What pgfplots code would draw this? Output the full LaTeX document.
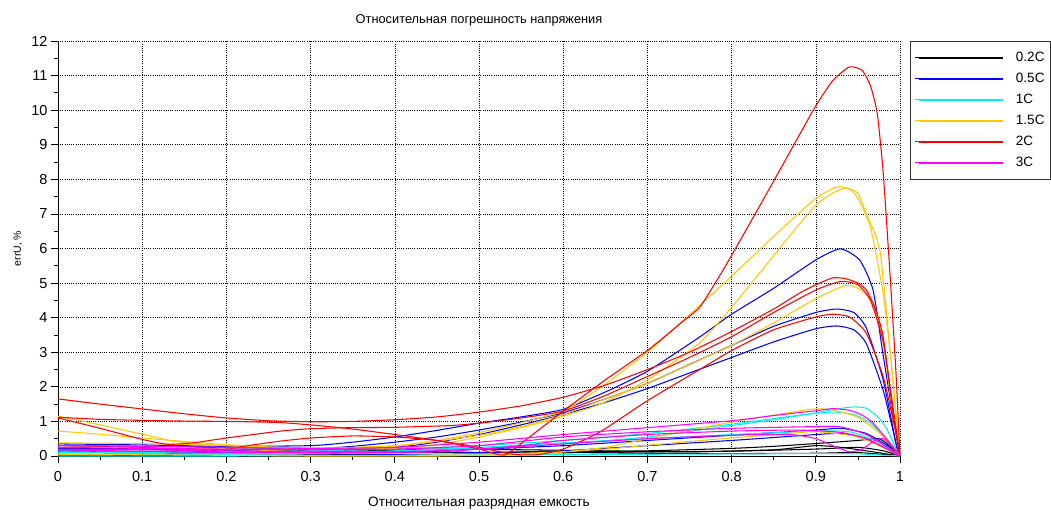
\documentclass[border=0pt]{standalone}
\usepackage{fontspec}
\setmainfont{Liberation Sans}
\usepackage{pgfplots}
\pgfplotsset{compat=1.18}
\definecolor{sciBlack}{RGB}{0,0,0}
\definecolor{sciBlue}{RGB}{0,0,255}
\definecolor{sciCyan}{RGB}{0,240,240}
\definecolor{sciYellow}{RGB}{255,200,0}
\definecolor{sciRed}{RGB}{255,0,0}
\definecolor{sciMagenta}{RGB}{255,0,255}
\pgfplotsset{
  crv/.style={line width=1.05pt, smooth, tension=0.35},
}
\begin{document}
\begin{tikzpicture}
\useasboundingbox (-58pt,-53pt) rectangle (993pt,456pt);
\begin{axis}[
  at={(0pt,0pt)}, anchor=south west,
  scale only axis, width=842pt, height=415pt,
  xmin=0, xmax=1, ymin=0, ymax=12,
  axis lines=left, axis line style={-, black, line width=0.8pt},
  xtick={0,0.1,0.2,0.3,0.4,0.5,0.6,0.7,0.8,0.9,1},
  xticklabels={0,0.1,0.2,0.3,0.4,0.5,0.6,0.7,0.8,0.9,1},
  ytick={0,1,2,3,4,5,6,7,8,9,10,11,12},
  yticklabels={0,1,2,3,4,5,6,7,8,9,10,11,12},
  minor x tick num=1, minor y tick num=1,
  tick align=outside,
  major tick length=7pt, minor tick length=4pt,
  tick style={black, line width=0.8pt},
  ticklabel style={font=\fontsize{14.5}{16}\selectfont},
  xticklabel style={yshift=-5pt},
  grid=major,
  major grid style={black, line width=0.6pt, dash pattern=on 1pt off 1.2pt},
  title={Относительная погрешность напряжения},
  title style={at={(axis description cs:0.5,1.036)}, anchor=center, font=\fontsize{12.8}{14}\selectfont},
  xlabel={Относительная разрядная емкость},
  xlabel style={at={(axis description cs:0.5,-0.113)}, anchor=center, font=\fontsize{13.6}{15}\selectfont},
  ylabel={errU, \%},
  ylabel style={at={(axis description cs:-0.0475,0.5)}, anchor=center, font=\fontsize{10.5}{12}\selectfont},
  legend style={at={(axis description cs:1,1)}, anchor=north west, xshift=10pt,
    draw=black!80, line width=1.2pt, fill=white, inner xsep=4pt, inner ysep=8pt,
    row sep=4.5pt, column sep=10pt,
    font=\fontsize{13.5}{15}\selectfont,
    nodes={inner sep=2pt, text height=9.5pt, text depth=3pt}},
  legend cell align=left,
  legend image code/.code={\path (-4pt,0pt) -- (84pt,0pt); \draw[#1, line width=1.7pt] (0pt,0pt) -- (84pt,0pt);},
]
% ---- 0.2C (black)
\addplot[sciBlack, crv] coordinates {(0,0.1)(0.1,0.12)(0.2,0.18)(0.3,0.15)(0.4,0.12)(0.5,0.1)(0.6,0.12)(0.7,0.15)(0.8,0.22)(0.85,0.28)(0.9,0.36)(0.95,0.45)(0.975,0.5)(0.99,0.25)(1,0)};
\addlegendentry{0.2C}
\addplot[sciBlack, crv, forget plot] coordinates {(0,0.2)(0.1,0.22)(0.2,0.2)(0.3,0.2)(0.4,0.15)(0.5,0.1)(0.6,0.1)(0.7,0.12)(0.8,0.14)(0.9,0.2)(0.95,0.25)(0.98,0.15)(1,0)};
\addplot[sciBlack, crv, forget plot] coordinates {(0,0.02)(0.2,0.02)(0.3,0.03)(0.5,0.08)(0.6,0.1)(0.7,0.08)(0.8,0.07)(0.9,0.08)(0.95,0.1)(1,0)};
\addplot[sciBlack, crv, forget plot] coordinates {(0,0.15)(0.2,0.25)(0.3,0.22)(0.45,0.2)(0.55,0.18)(0.65,0.15)(0.75,0.12)(0.85,0.18)(0.9,0.3)(0.93,0.25)(0.96,0.15)(1,0)};

% ---- 0.5C (blue)
\addplot[sciBlue, crv] coordinates {(0,0.35)(0.1,0.32)(0.2,0.28)(0.3,0.3)(0.35,0.4)(0.4,0.55)(0.45,0.74)(0.5,0.95)(0.55,1.13)(0.6,1.35)(0.65,1.85)(0.7,2.45)(0.762,3.44)(0.8,4.1)(0.85,4.85)(0.9,5.67)(0.929,5.99)(0.952,5.67)(0.968,4.8)(0.979,3.07)(0.99,1.4)(1,0)};
\addlegendentry{0.5C}
\addplot[sciBlue, crv, forget plot] coordinates {(0,0.22)(0.1,0.2)(0.2,0.15)(0.3,0.2)(0.35,0.28)(0.4,0.4)(0.45,0.55)(0.5,0.75)(0.55,0.98)(0.6,1.25)(0.65,1.65)(0.7,2.1)(0.75,2.65)(0.8,3.2)(0.85,3.75)(0.9,4.15)(0.925,4.25)(0.945,4.15)(0.96,3.7)(0.98,2.2)(0.996,0.26)(1,0)};
\addplot[sciBlue, crv, forget plot] coordinates {(0,0.15)(0.1,0.12)(0.2,0.1)(0.3,0.12)(0.4,0.25)(0.45,0.4)(0.5,0.62)(0.55,0.9)(0.6,1.2)(0.65,1.55)(0.7,1.95)(0.75,2.4)(0.8,2.85)(0.85,3.3)(0.9,3.68)(0.925,3.76)(0.945,3.65)(0.96,3.25)(0.98,1.9)(0.995,0.4)(1,0)};
\addplot[sciBlue, crv, forget plot] coordinates {(0,0.3)(0.1,0.28)(0.2,0.25)(0.3,0.22)(0.4,0.18)(0.5,0.2)(0.6,0.3)(0.7,0.45)(0.8,0.6)(0.9,0.75)(0.93,0.8)(0.96,0.65)(0.985,0.3)(1,0)};
\addplot[sciBlue, crv, forget plot] coordinates {(0,0.1)(0.2,0.08)(0.4,0.05)(0.5,0.1)(0.6,0.15)(0.7,0.3)(0.8,0.45)(0.9,0.62)(0.93,0.65)(0.96,0.5)(1,0)};

% ---- 1C (cyan)
\addplot[sciCyan, crv] coordinates {(0,0.05)(0.1,0.04)(0.2,0.05)(0.3,0.08)(0.4,0.12)(0.5,0.22)(0.6,0.35)(0.7,0.55)(0.8,0.88)(0.85,1.05)(0.9,1.25)(0.925,1.36)(0.945,1.42)(0.96,1.38)(0.975,1.1)(0.985,0.75)(0.996,0.17)(1,0)};
\addlegendentry{1C}
\addplot[sciCyan, crv, forget plot] coordinates {(0,0.15)(0.1,0.14)(0.2,0.13)(0.3,0.15)(0.4,0.2)(0.5,0.3)(0.6,0.45)(0.7,0.65)(0.8,0.92)(0.88,1.18)(0.92,1.27)(0.945,1.2)(0.965,0.95)(0.985,0.45)(1,0)};
\addplot[sciCyan, crv, forget plot] coordinates {(0,0.0)(0.2,0.0)(0.4,0.02)(0.6,0.04)(0.8,0.06)(0.9,0.07)(0.95,0.06)(1,0)};
\addplot[sciCyan, crv, forget plot] coordinates {(0,0.1)(0.1,0.1)(0.2,0.08)(0.3,0.1)(0.4,0.15)(0.5,0.25)(0.6,0.38)(0.7,0.5)(0.8,0.62)(0.9,0.72)(0.94,0.7)(0.97,0.45)(1,0)};

% ---- 1.5C (yellow)
\addplot[sciYellow, crv] coordinates {(0,1.15)(0.05,0.9)(0.1,0.63)(0.14,0.42)(0.2,0.3)(0.3,0.22)(0.4,0.3)(0.45,0.45)(0.5,0.68)(0.55,0.96)(0.6,1.3)(0.644,1.97)(0.7,3.0)(0.762,4.35)(0.8,5.2)(0.85,6.35)(0.9,7.45)(0.925,7.78)(0.94,7.72)(0.95,7.45)(0.965,6.6)(0.98,4.7)(0.99,2.6)(1,0)};
\addlegendentry{1.5C}
\addplot[sciYellow, crv, forget plot] coordinates {(0,0.72)(0.05,0.63)(0.1,0.52)(0.15,0.42)(0.2,0.33)(0.3,0.2)(0.4,0.22)(0.45,0.33)(0.5,0.55)(0.55,0.82)(0.6,1.15)(0.644,1.5)(0.7,2.2)(0.762,3.27)(0.8,4.3)(0.837,5.4)(0.87,6.4)(0.9,7.25)(0.92,7.6)(0.935,7.75)(0.95,7.6)(0.96,7.0)(0.976,5.96)(0.988,3.1)(1,0)};
\addplot[sciYellow, crv, forget plot] coordinates {(0,0.38)(0.1,0.36)(0.2,0.3)(0.3,0.22)(0.4,0.28)(0.5,0.6)(0.55,0.85)(0.6,1.2)(0.65,1.65)(0.7,2.1)(0.75,2.65)(0.8,3.2)(0.85,3.85)(0.9,4.55)(0.935,4.93)(0.95,4.85)(0.965,4.5)(0.978,3.6)(0.99,1.5)(1,0)};
\addplot[sciYellow, crv, forget plot] coordinates {(0,0.3)(0.1,0.28)(0.2,0.2)(0.3,0.12)(0.4,0.08)(0.5,0.06)(0.55,0.08)(0.6,0.12)(0.65,0.25)(0.7,0.5)(0.762,0.8)(0.8,0.98)(0.85,1.18)(0.897,1.36)(0.92,1.33)(0.949,1.13)(0.976,0.66)(1,0)};
\addplot[sciYellow, crv, forget plot] coordinates {(0,0.05)(0.2,0.02)(0.3,0.0)(0.45,0.0)(0.55,0.05)(0.65,0.2)(0.75,0.42)(0.85,0.62)(0.9,0.7)(0.95,0.55)(1,0)};

% ---- 2C (red)
\addplot[sciRed, crv] coordinates {(0,1.12)(0.05,1.06)(0.1,1.03)(0.15,1.01)(0.2,1.0)(0.26,0.97)(0.3,0.9)(0.35,0.78)(0.4,0.62)(0.45,0.45)(0.5,0.2)(0.53,0.03)(0.56,0.55)(0.6,1.3)(0.65,2.2)(0.7,3.05)(0.74,3.85)(0.762,4.3)(0.783,5.1)(0.8,5.8)(0.85,7.95)(0.897,10.0)(0.92,10.85)(0.94,11.25)(0.955,11.15)(0.965,10.7)(0.973,9.9)(0.98,8.2)(0.988,5.3)(0.995,2.5)(1,0)};
\addlegendentry{2C}
\addplot[sciRed, crv, forget plot] coordinates {(0,1.65)(0.05,1.5)(0.1,1.36)(0.15,1.22)(0.2,1.1)(0.25,1.02)(0.3,0.99)(0.35,1.0)(0.4,1.05)(0.45,1.13)(0.5,1.27)(0.55,1.45)(0.6,1.7)(0.65,2.05)(0.7,2.5)(0.75,3.0)(0.8,3.6)(0.85,4.25)(0.88,4.7)(0.9,4.95)(0.92,5.15)(0.935,5.13)(0.95,5.0)(0.96,4.8)(0.97,4.3)(0.98,3.45)(0.992,1.2)(1,0)};
\addplot[sciRed, crv, forget plot] coordinates {(0,1.1)(0.05,0.8)(0.1,0.48)(0.13,0.34)(0.16,0.38)(0.2,0.52)(0.264,0.72)(0.3,0.79)(0.35,0.82)(0.4,0.83)(0.466,0.88)(0.5,0.95)(0.55,1.1)(0.6,1.3)(0.65,1.75)(0.7,2.3)(0.75,2.85)(0.8,3.45)(0.85,4.15)(0.9,4.8)(0.93,5.05)(0.95,4.95)(0.965,4.5)(0.98,3.3)(0.99,1.7)(1,0)};
\addplot[sciRed, crv, forget plot] coordinates {(0,0.3)(0.1,0.25)(0.18,0.12)(0.22,0.28)(0.264,0.43)(0.3,0.52)(0.35,0.58)(0.4,0.55)(0.45,0.45)(0.5,0.25)(0.54,0.05)(0.57,0.04)(0.6,0.2)(0.644,0.7)(0.7,1.6)(0.762,2.5)(0.8,3.05)(0.85,3.65)(0.9,4.02)(0.92,4.1)(0.94,4.02)(0.96,3.55)(0.98,2.3)(0.993,0.9)(1,0)};

% ---- 3C (magenta)
\addplot[sciMagenta, crv] coordinates {(0,0.3)(0.1,0.28)(0.2,0.25)(0.3,0.22)(0.4,0.25)(0.5,0.4)(0.6,0.62)(0.7,0.82)(0.8,1.02)(0.85,1.17)(0.9,1.31)(0.92,1.37)(0.94,1.32)(0.955,1.18)(0.968,0.95)(0.992,0.26)(1,0)};
\addlegendentry{3C}
\addplot[sciMagenta, crv, forget plot] coordinates {(0,0.25)(0.1,0.22)(0.2,0.2)(0.3,0.18)(0.4,0.2)(0.5,0.3)(0.6,0.55)(0.7,0.7)(0.8,0.8)(0.9,0.85)(0.93,0.84)(0.96,0.62)(0.985,0.25)(1,0)};
\addplot[sciMagenta, crv, forget plot] coordinates {(0,0.2)(0.1,0.18)(0.2,0.15)(0.3,0.12)(0.4,0.12)(0.5,0.2)(0.6,0.35)(0.7,0.5)(0.8,0.6)(0.87,0.62)(0.9,0.5)(0.92,0.3)(0.94,0.12)(0.955,0.2)(0.97,0.45)(0.98,0.5)(0.99,0.3)(1,0)};
\addplot[sciMagenta, crv, forget plot] coordinates {(0,0.18)(0.15,0.12)(0.3,0.1)(0.45,0.12)(0.55,0.3)(0.6,0.45)(0.7,0.62)(0.8,0.72)(0.88,0.75)(0.93,0.68)(0.96,0.5)(1,0)};
\end{axis}
\end{tikzpicture}
\end{document}
